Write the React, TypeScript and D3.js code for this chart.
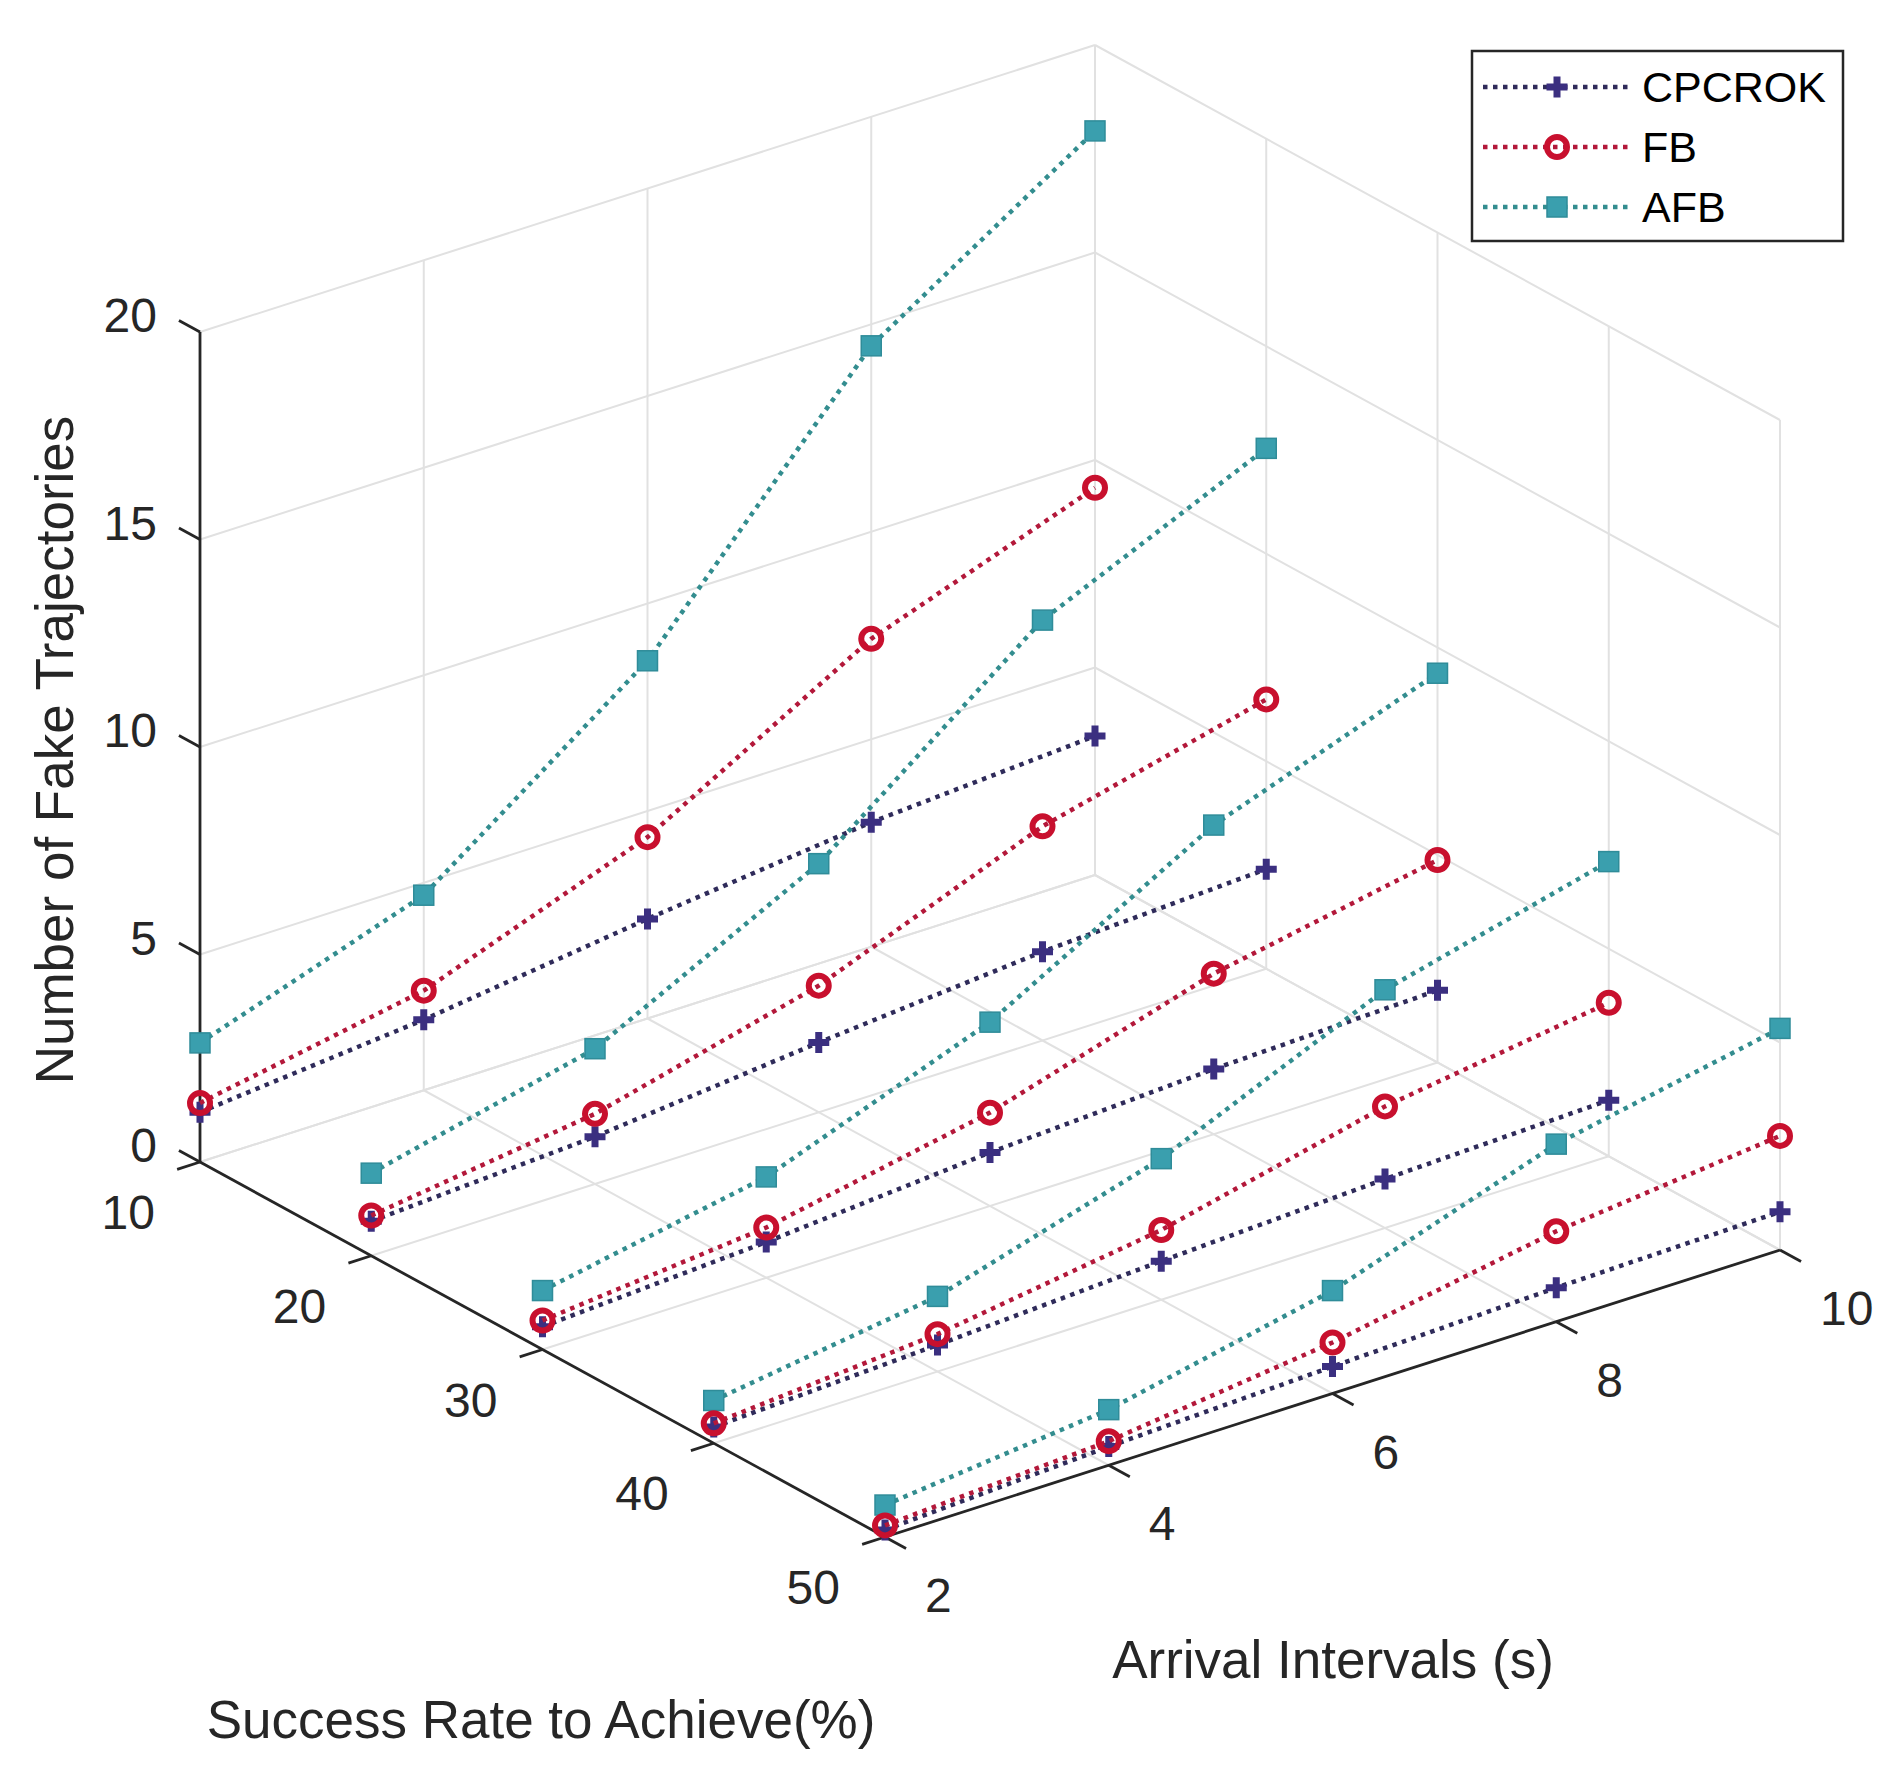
import * as d3 from "d3";
import { useEffect, useRef } from "react";

// axes values
const successRates = [10, 20, 30, 40, 50];
const arrivalIntervals = [2, 4, 6, 8, 10];
const zTicks = [0, 5, 10, 15, 20];

// one row per success rate (10..50), one value per arrival interval (2..10)
const cpcrok = [
  [1.2, 1.7, 2.4, 3.0, 3.35],
  [0.83, 1.14, 1.68, 2.14, 2.4],
  [0.55, 0.86, 1.29, 1.57, 1.74],
  [0.39, 0.64, 0.93, 1.18, 1.35],
  [0.17, 0.45, 0.65, 0.82, 0.92],
];
const fb = [
  [1.42, 2.4, 4.37, 7.42, 9.33],
  [0.97, 1.69, 3.05, 5.16, 6.49],
  [0.7, 1.21, 2.25, 3.87, 4.88],
  [0.48, 0.9, 1.68, 2.93, 3.7],
  [0.28, 0.58, 1.23, 2.18, 2.75],
];
const afb = [
  [2.87, 4.7, 8.62, 14.48, 17.93],
  [1.99, 3.26, 5.99, 10.13, 12.54],
  [1.42, 2.43, 4.43, 7.45, 9.38],
  [1.03, 1.81, 3.4, 5.74, 7.1],
  [0.77, 1.34, 2.48, 4.28, 5.34],
];

const seriesNames = ["CPCROK", "FB", "AFB"];

type Marker = "plus" | "circle" | "square";
type Series = { name: string; rows: number[][]; line: string; mark: string; marker: Marker };

// draw order inside a row: CPCROK, AFB, FB (FB circles sit on top)
const series: Series[] = [
  { name: seriesNames[0], rows: cpcrok, line: "#2f2b5a", mark: "#3b2f80", marker: "plus" },
  { name: seriesNames[2], rows: afb, line: "#338d8f", mark: "#3a9fae", marker: "square" },
  { name: seriesNames[1], rows: fb, line: "#b3183a", mark: "#c8102e", marker: "circle" },
];

export default function App() {
  const ref = useRef<SVGSVGElement | null>(null);

  useEffect(() => {
    const el = ref.current;
    if (!el) return;
    const svg = d3.select(el);
    svg.selectAll("*").remove();

    const W = 1896;
    const H = 1773;
    const font = "'Liberation Sans', Arial, Helvetica, sans-serif";

    // oblique projection of the MATLAB box
    const origin = [200, 1162];
    const srVec = [685, 375];
    const aiVec = [895, -287];
    const sr = d3.scaleLinear().domain([10, 50]).range([0, 1]);
    const ai = d3.scaleLinear().domain([2, 10]).range([0, 1]);
    const zs = d3.scaleLinear().domain([0, 20]).range([0, 830]);
    const proj = (s: number, a: number, z: number): [number, number] => [
      origin[0] + sr(s) * srVec[0] + ai(a) * aiVec[0],
      origin[1] + sr(s) * srVec[1] + ai(a) * aiVec[1] - zs(z),
    ];
    const unit = (v: number[], k: number) => {
      const l = Math.hypot(v[0], v[1]);
      return [(v[0] / l) * k, (v[1] / l) * k];
    };

    svg.attr("width", W).attr("height", H).attr("viewBox", `0 0 ${W} ${H}`);
    svg.append("rect").attr("width", W).attr("height", H).attr("fill", "#fff");

    const seg = (g: any, p: [number, number], q: [number, number], color: string, w: number) =>
      g
        .append("line")
        .attr("x1", p[0])
        .attr("y1", p[1])
        .attr("x2", q[0])
        .attr("y2", q[1])
        .attr("stroke", color)
        .attr("stroke-width", w);

    // grid on the back walls and the floor
    const grid = svg.append("g");
    const gc = "#e1e1e1";
    arrivalIntervals.forEach((a) => seg(grid, proj(10, a, 0), proj(10, a, 20), gc, 2));
    zTicks.forEach((z) => seg(grid, proj(10, 2, z), proj(10, 10, z), gc, 2));
    successRates.forEach((s) => seg(grid, proj(s, 10, 0), proj(s, 10, 20), gc, 2));
    zTicks.forEach((z) => seg(grid, proj(10, 10, z), proj(50, 10, z), gc, 2));
    successRates.forEach((s) => seg(grid, proj(s, 2, 0), proj(s, 10, 0), gc, 2));
    arrivalIntervals.forEach((a) => seg(grid, proj(10, a, 0), proj(50, a, 0), gc, 2));

    // axes
    const ax = svg.append("g");
    const ac = "#262626";
    seg(ax, proj(10, 2, 0), proj(10, 2, 20), ac, 2.8);
    seg(ax, proj(10, 2, 0), proj(50, 2, 0), ac, 2.8);
    seg(ax, proj(50, 2, 0), proj(50, 10, 0), ac, 2.8);

    const zt = unit([-srVec[0], -srVec[1]], 24);
    const st = unit([-aiVec[0], -aiVec[1]], 24);
    const at = unit(srVec, 24);
    const tickText = (x: number, y: number, t: string, anchor: string) =>
      ax
        .append("text")
        .attr("x", x)
        .attr("y", y)
        .attr("text-anchor", anchor)
        .attr("font-family", font)
        .attr("font-size", 48)
        .attr("fill", ac)
        .text(t);

    zTicks.forEach((z) => {
      const p = proj(10, 2, z);
      seg(ax, p, [p[0] + zt[0], p[1] + zt[1]], ac, 2.8);
      tickText(p[0] - 43, p[1], String(z), "end");
    });
    successRates.forEach((s) => {
      const p = proj(s, 2, 0);
      seg(ax, p, [p[0] + st[0], p[1] + st[1]], ac, 2.8);
      tickText(p[0] - 45, p[1] + 67, String(s), "end");
    });
    arrivalIntervals.forEach((a) => {
      const p = proj(50, a, 0);
      seg(ax, p, [p[0] + at[0], p[1] + at[1]], ac, 2.8);
      tickText(p[0] + 40, p[1] + 75, String(a), "start");
    });

    // axis titles
    const title = (x: number, y: number, t: string, rot = 0) =>
      svg
        .append("text")
        .attr("transform", `translate(${x},${y}) rotate(${rot})`)
        .attr("text-anchor", "middle")
        .attr("font-family", font)
        .attr("font-size", 53)
        .attr("fill", ac)
        .text(t);
    title(73, 750, "Number of Fake Trajectories", -90);
    title(1333, 1678, "Arrival Intervals (s)");
    title(541, 1738, "Success Rate to Achieve(%)");

    const drawMarker = (g: any, x: number, y: number, s: Series) => {
      if (s.marker === "plus") {
        g.append("path")
          .attr("d", `M${x - 10.5},${y}H${x + 10.5}M${x},${y - 10.5}V${y + 10.5}`)
          .attr("stroke", s.mark)
          .attr("stroke-width", 7)
          .attr("fill", "none");
      } else if (s.marker === "circle") {
        g.append("circle")
          .attr("cx", x)
          .attr("cy", y)
          .attr("r", 10)
          .attr("fill", "none")
          .attr("stroke", s.mark)
          .attr("stroke-width", 6);
      } else {
        g.append("rect")
          .attr("x", x - 10)
          .attr("y", y - 10)
          .attr("width", 20)
          .attr("height", 20)
          .attr("fill", s.mark)
          .attr("stroke", "#2f8c99")
          .attr("stroke-width", 1.5);
      }
    };

    const dotted = { width: 4.5, dash: "4.5 5.5" };

    // data, back row first
    const plot = svg.append("g");
    successRates.forEach((s, ri) => {
      series.forEach((se) => {
        const pts = arrivalIntervals.map((a, i) => proj(s, a, se.rows[ri][i]));
        plot
          .append("path")
          .attr("d", d3.line()(pts))
          .attr("fill", "none")
          .attr("stroke", se.line)
          .attr("stroke-width", dotted.width)
          .attr("stroke-dasharray", dotted.dash);
        pts.forEach((p) => drawMarker(plot, p[0], p[1], se));
      });
    });

    // legend
    const lg = svg.append("g");
    lg.append("rect")
      .attr("x", 1472)
      .attr("y", 51)
      .attr("width", 371)
      .attr("height", 190)
      .attr("fill", "#fff")
      .attr("stroke", ac)
      .attr("stroke-width", 2.5);
    seriesNames.forEach((name, i) => {
      const se = series.find((d) => d.name === name)!;
      const y = 87 + i * 60;
      lg.append("line")
        .attr("x1", 1483)
        .attr("x2", 1630)
        .attr("y1", y)
        .attr("y2", y)
        .attr("stroke", se.line)
        .attr("stroke-width", dotted.width)
        .attr("stroke-dasharray", dotted.dash);
      drawMarker(lg, 1557, y, se);
      lg.append("text")
        .attr("x", 1642)
        .attr("y", y + 15)
        .attr("font-family", font)
        .attr("font-size", 43)
        .attr("fill", "#000")
        .text(name);
    });
  }, []);

  return <svg ref={ref} style={{ position: "absolute", left: 0, top: 0, display: "block" }} />;
}
